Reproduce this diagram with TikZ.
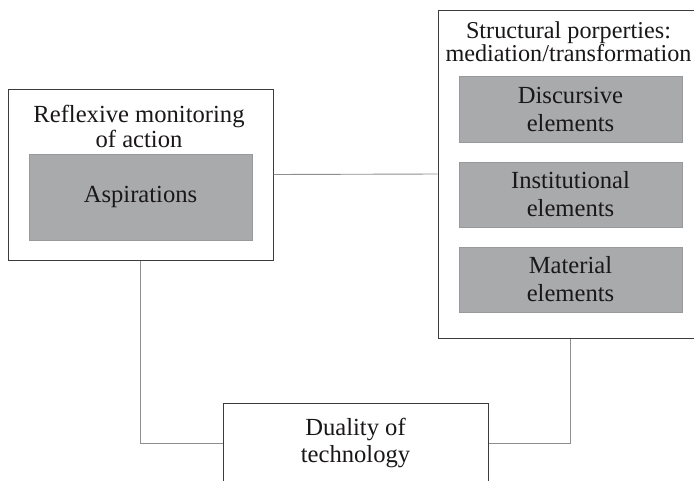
\documentclass[tikz,border=0pt]{standalone}
\usepackage{fontspec}
\setmainfont{Liberation Serif}
\newfontfamily\timesf{Liberation Serif}
\definecolor{boxline}{HTML}{3C3C3C}
\definecolor{grayfill}{HTML}{A9AAAC}
\definecolor{conn}{HTML}{8E8E8E}
\definecolor{txt}{HTML}{1A1718}
\begin{document}
\begin{tikzpicture}[x=1pt,y=-1pt,
  outer/.style={draw=boxline,line width=1pt,fill=white,inner sep=0pt},
  inner/.style={fill=grayfill,draw=grayfill!90!black,line width=0.4pt,inner sep=0pt,minimum width=223pt,
    text=txt,align=center,font=\timesf\fontsize{24.6}{28}\selectfont},
  label/.style={text=txt,align=center,inner sep=0pt,font=\timesf\fontsize{24.6}{25}\selectfont},
  conn/.style={draw=conn,line width=0.9pt}]
\useasboundingbox (0,0) rectangle (694,480);
\begin{scope}
\clip (0,0) rectangle (694,480);
% outer boxes
\node[outer,minimum width=265pt,minimum height=171pt] (refl) at (140.5,174.5) {};
\node[outer,minimum width=265pt,minimum height=328pt] (struct) at (570.5,174) {};
\node[outer,minimum width=265pt,minimum height=80pt] (dual) at (355.5,443) {};
% connectors
\draw[conn] (refl.east) -- (struct.west);
\draw[conn] (refl.south) |- (dual.west);
\draw[conn] (struct.south) |- (dual.east);
% left box content
\node[label] (refltitle) at (139,126) {Reflexive monitoring\\of action};
\node[inner,minimum height=86pt] (asp) at (140.5,197) {Aspirations};
% right box content
\node[label,font=\timesf\fontsize{24.2}{23}\selectfont] (structtitle) at (568.5,42) {Structural porperties:\\mediation/transformation};
\node[inner,minimum height=66pt] (disc) at (570.5,109) {Discursive\\elements};
\node[inner,minimum height=65pt] (inst) at (570.5,194.5) {Institutional\\elements};
\node[inner,minimum height=65pt] (mat) at (570.5,279.5) {Material\\elements};
% duality text
\node[label,font=\timesf\fontsize{24.6}{27}\selectfont] (dualtext) at (355.5,443) {Duality of\\technology};
\end{scope}
\end{tikzpicture}
\end{document}
